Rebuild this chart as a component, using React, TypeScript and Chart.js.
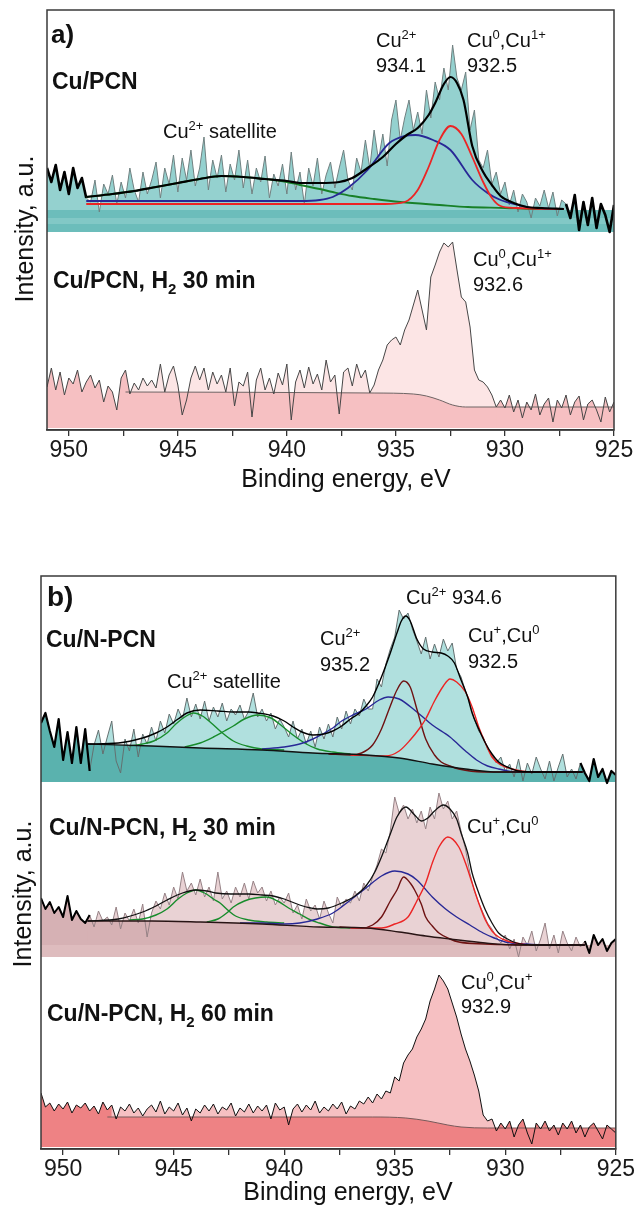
import { useEffect, useRef } from "react";
import { Chart, registerables } from "chart.js";

Chart.register(...registerables);

const FONT = '"Liberation Sans", Arial, Helvetica, sans-serif';

// ---------- axis ----------
const xMin = 925;
const xMax = 951;
const xTickValues = [950, 947.5, 945, 942.5, 940, 937.5, 935, 932.5, 930, 927.5, 925];
const xTickLabels = [950, 945, 940, 935, 930, 925];

// raw spectra: energies 951.0 -> 925.0 eV, step 0.2 eV (intensity, a.u.)
const energyStart = 951;
const energyStep = 0.2;

// (a) Cu/PCN
const cuPCN = [
  262, 248, 265, 240, 258, 236, 262, 242, 252, 232,
  228, 250, 218, 246, 236, 255, 226, 248, 232, 262,
  240, 228, 258, 236, 250, 268, 232, 262, 246, 275,
  238, 272, 250, 280, 244, 262, 293, 240, 270, 252,
  275, 238, 266, 250, 280, 242, 270, 236, 262, 248,
  274, 232, 256, 244, 266, 236, 278, 240, 258, 226,
  262, 244, 272, 236, 255, 268, 242, 262, 280, 250,
  240, 272, 258, 290, 262, 300, 270, 296, 264, 310,
  330, 290, 312, 330, 300, 318, 296, 340, 312, 348,
  330, 362, 340, 385, 352, 340, 358, 300, 320, 270,
  262, 280, 246, 258, 236, 248, 225, 240, 218, 236,
  228, 212, 232, 224, 240, 222, 238, 214, 230, 226,
  212, 235, 200, 228, 205, 232, 202, 226, 215, 198,
  225,
];
// (a) Cu/PCN, H2 30 min
const cuPCN_H2_30 = [
  43, 62, 40, 58, 35, 52, 46, 60, 38, 48,
  55, 42, 50, 28, 44, 38, 20, 52, 60, 36,
  47, 40, 52, 44, 50, 42, 66, 38, 55, 64,
  45, 15, 30, 52, 64, 50, 62, 40, 58, 46,
  55, 38, 62, 24, 48, 44, 58, 13, 50, 62,
  40, 52, 36, 57, 45, 66, 10, 48, 60, 42,
  63, 46, 56, 40, 70, 48, 55, 16, 58, 62,
  44, 66, 52, 60, 37, 45, 60, 70, 85, 90,
  93, 85, 100, 110, 125, 140, 120, 100, 153, 165,
  178, 187, 183, 188, 160, 133, 128, 103, 60, 50,
  48, 43, 35, 23, 30, 22, 35, 18, 30, 12,
  28, 20, 36, 15, 26, 32, 8, 30, 22, 35,
  15, 28, 34, 10, 26, 30, 20, 8, 33, 18,
  28,
];
// (b) Cu/N-PCN
const cuNPCN = [
  426, 436, 418, 402, 430, 389, 417, 386, 422, 386,
  420, 378, 404, 419, 395, 412, 428, 388, 376, 410,
  398, 420, 392, 415, 405, 422, 408, 428, 416, 435,
  425, 440, 430, 451, 432, 445, 430, 448, 428, 442,
  432, 446, 428, 440, 434, 444, 430, 438, 456, 432,
  440, 428, 436, 420, 430, 422, 412, 428, 410, 420,
  405, 418, 402, 422, 410, 425, 412, 432, 420, 438,
  425, 440, 433, 450, 440, 440, 470, 462, 485, 500,
  512, 539, 530, 536, 520, 508, 495, 512, 490, 505,
  492, 510, 498, 506, 480, 472, 458, 445, 430, 418,
  412, 400, 394, 386, 392, 378, 385, 372, 390, 368,
  386, 375, 392, 380, 370, 388, 368, 382, 395, 372,
  380, 370, 386, 376, 368, 390, 372, 380, 366, 378,
  374,
];
// (b) Cu/N-PCN, H2 30 min
const cuNPCN_H2_30 = [
  251, 240, 247, 236, 242, 232, 253, 229, 238, 230,
  226, 234, 222, 238, 228, 232, 224, 242, 220, 236,
  228, 240, 226, 245, 212, 236, 248, 240, 256, 244,
  262, 250, 277, 258, 266, 254, 270, 252, 262, 248,
  277, 250, 258, 246, 262, 252, 266, 250, 268, 256,
  262, 248, 258, 244, 252, 246, 256, 236, 244, 230,
  250, 238, 244, 230, 248, 236, 226, 252, 242, 250,
  246, 258, 248, 266, 258, 272, 284, 300, 296, 318,
  352, 336, 344, 330, 340, 326, 338, 320, 342, 330,
  356, 340, 348, 330, 338, 318, 300, 276, 258, 246,
  236, 226, 220, 212, 206, 214, 200, 210, 192, 212,
  204, 218, 198, 210, 226, 200, 214, 196, 218, 206,
  198, 212, 202, 208, 196, 214, 204, 210, 198, 206,
  210,
];
// (b) Cu/N-PCN, H2 60 min
const cuNPCN_H2_60 = [
  56, 42, 46, 38, 45, 40, 47, 36, 44, 41,
  46, 38, 43, 35, 47, 39, 44, 30, 42, 38,
  45, 36, 41, 33, 40, 44, 37, 48, 35, 42,
  38, 46, 34, 41, 28, 40, 36, 44, 38, 45,
  35, 42, 39, 46, 33, 41, 37, 45, 36, 43,
  38, 44, 30, 46, 39, 42, 24, 40, 45, 37,
  44, 39, 48, 36, 42, 38, 45, 40, 47, 35,
  43, 40, 48, 45, 52, 46, 55, 50, 58, 56,
  72, 68, 86, 94, 100, 112, 120, 130, 148, 160,
  174, 168, 160, 146, 132, 115, 100, 88, 74, 58,
  34, 28, 30, 18, 26, 20, 28, 12, 24, 30,
  16, 5, 26, 20, 28, 18, 24, 14, 26, 20,
  28, 16, 24, 12, 22, 26, 18, 10, 24, 20,
  16,
];

// ---------- fitted curves [eV, intensity] ----------
// (a) Cu/PCN
const fitA_envelope = [
  [949.2, 233], [948, 236], [947, 239], [946, 243], [945, 247], [944, 251], [943, 254], [942, 253],
  [941, 251], [940, 249], [939.4, 247], [938.5, 247], [937.6, 248], [937, 252], [936.3, 262],
  [935.6, 273], [935, 286], [934.5, 295], [934, 302], [933.5, 315], [933.2, 327], [932.8, 346],
  [932.5, 353], [932.2, 347], [931.9, 330], [931.5, 284], [931, 258], [930.6, 245], [930.2, 234],
  [929.6, 227], [929, 223], [928.3, 222], [927.3, 221],
];
const fitA_satellite = [
  [949.2, 233], [948, 236], [947, 239], [946, 243], [945, 247], [944, 251], [943, 254], [942, 253],
  [941, 251], [940, 248], [939.4, 245], [938.5, 241], [937.9, 238], [937, 234], [936, 231],
  [934.8, 228], [933, 225], [931.7, 223], [930, 222], [928.7, 221], [927.3, 221],
];
const fitA_cu2 = [
  [949.2, 229], [945, 229], [941, 229], [939.4, 229], [938.5, 230], [937.9, 233], [937.2, 242],
  [936.3, 260], [935.3, 287], [934.6, 294], [934.1, 295], [933.3, 290], [932.5, 280], [931.5, 250],
  [930.8, 237], [930.2, 230], [929.4, 225], [928.7, 222], [927.3, 221],
];
const fitA_cu0 = [
  [949.2, 226], [940, 226], [935.5, 226], [934.6, 228], [934, 240], [933.5, 263], [933, 290],
  [932.5, 304], [932, 296], [931.5, 273], [931, 248], [930.6, 232], [930.2, 224], [929.5, 222],
  [927.3, 221],
];
// (a) Cu/PCN, H2 30 min background
const bgA_H2 = [
  [947.4, 38], [936, 37], [934.2, 36], [933.6, 34], [933, 30], [932.4, 25], [931.8, 23], [925, 23],
];

// (b) Cu/N-PCN
const fitB1_background = [
  [948.9, 405], [946, 403], [943.8, 401], [941, 399], [938.7, 396], [936.3, 394], [934.8, 391],
  [933.3, 385], [931.8, 380], [930.3, 377], [929, 377], [926.5, 377],
];
const fitB1_envelope = [
  [948.9, 405], [947.5, 406], [946.4, 411], [945.8, 416], [945.3, 422], [944.8, 430], [944.4, 436],
  [943.8, 439], [943, 438], [942.3, 437], [941.6, 437], [941.2, 436], [940.5, 433], [940, 428],
  [939.6, 422], [939.2, 417], [938.7, 414], [938.2, 415], [937.8, 418], [937.4, 423], [937, 430],
  [936.6, 436], [936.3, 443], [936, 452], [935.6, 472], [935.2, 496], [934.9, 516], [934.7, 528],
  [934.5, 533], [934.3, 528], [934, 510], [933.7, 500], [933.3, 497], [932.9, 496], [932.6, 493],
  [932.3, 486], [932, 469], [931.7, 452], [931.5, 436], [931.2, 420], [930.9, 406], [930.6, 395],
  [930.3, 387], [929.9, 382], [929.4, 378], [928.5, 377], [926.5, 377],
];
const fitB1_sat1 = [
  [947, 403], [946.4, 405], [945.9, 408], [945.3, 416], [944.9, 425], [944.5, 432], [944.1, 436],
  [943.7, 433], [943.3, 426], [942.9, 418], [942.3, 408], [941.7, 403], [941, 400], [940, 399],
];
const fitB1_sat2 = [
  [944.5, 402], [943.8, 406], [943.2, 412], [942.7, 418], [942.3, 423], [941.8, 430], [941.2, 434],
  [940.6, 431], [940.1, 423], [939.6, 414], [939, 405], [938.5, 400], [937.8, 397], [937, 395],
];
const fitB1_cu2a = [
  [941, 400], [940, 402], [939.3, 405], [938.7, 410], [937.8, 421], [937.4, 428], [936.8, 435],
  [936.3, 440], [935.7, 449], [935.3, 452], [934.8, 450], [934, 437], [933.3, 424], [932.5, 412],
  [931.8, 398], [931.3, 389], [930.8, 383], [930.3, 380], [929.5, 377], [928, 377], [926.5, 377],
];
const fitB1_cu2b = [
  [938, 395], [937, 394], [936.5, 396], [936, 404], [935.6, 420], [935.2, 443], [934.9, 459],
  [934.6, 468], [934.3, 462], [934, 440], [933.6, 410], [933.2, 394], [932.9, 387], [932.5, 383],
  [932.1, 380], [931, 377], [929, 377],
];
const fitB1_cu1 = [
  [937, 394], [935.4, 393], [934.8, 398], [934.3, 409], [933.9, 420], [933.6, 430], [933.2, 448],
  [932.8, 463], [932.5, 470], [932.2, 467], [931.8, 457], [931.5, 442], [931.2, 422], [930.9, 406],
  [930.6, 392], [930.2, 384], [929.7, 380], [928.8, 377], [926.5, 377],
];

// (b) Cu/N-PCN, H2 30 min
const fitB2_background = [
  [948.9, 228], [946, 228], [943.8, 227], [941, 225], [938.4, 222], [936.3, 221], [934.8, 217],
  [933.6, 213], [932.5, 210], [930.9, 206], [929.5, 204], [926.4, 204],
];
const fitB2_envelope = [
  [948.9, 228], [947.5, 230], [946.4, 237], [945.8, 243], [945.3, 249], [944.6, 256], [944, 259],
  [943.5, 258], [943.1, 256], [942.4, 255], [941.6, 255], [941, 254], [940.5, 253], [940, 250],
  [939.3, 244], [938.8, 241], [938.5, 240], [938, 241], [937.4, 246], [936.8, 253], [936.3, 263],
  [935.9, 277], [935.6, 292], [935.2, 315], [934.9, 332], [934.5, 342], [934.1, 334], [933.8, 328],
  [933.5, 331], [933.2, 338], [932.8, 344], [932.5, 340], [932.2, 330], [932, 316], [931.7, 296],
  [931.5, 276], [931.2, 256], [930.9, 239], [930.6, 226], [930.3, 216], [929.9, 210], [929.5, 206],
  [928.8, 204], [926.4, 204],
];
const fitB2_sat1 = [
  [947, 229], [946.4, 230], [945.8, 234], [945.3, 240], [944.8, 250], [944.4, 256], [944, 259],
  [943.6, 256], [943.2, 250], [942.9, 246], [942.5, 238], [942.2, 233], [941.6, 229], [940.8, 227],
  [940, 226],
];
const fitB2_sat2 = [
  [943.5, 227], [943, 230], [942.6, 236], [942.3, 242], [941.8, 248], [941.3, 251], [940.8, 252],
  [940.3, 248], [939.8, 241], [939.3, 235], [938.8, 229], [938.4, 226], [937.8, 222], [937, 221],
];
const fitB2_cu2a = [
  [942, 226], [941, 226], [940, 225], [939.3, 226], [938.5, 230], [937.8, 236], [937, 249],
  [936.3, 261], [935.6, 273], [935, 278], [934.4, 275], [934, 269], [933.3, 252], [932.7, 240],
  [932.2, 232], [931.6, 224], [931, 216], [930.5, 211], [930, 207], [929.1, 205], [928, 204],
  [926.4, 204],
];
const fitB2_cu2b = [
  [937.5, 222], [936.5, 221], [936, 224], [935.6, 232], [935.2, 248], [934.9, 259], [934.6, 272],
  [934.3, 266], [934.1, 259], [933.8, 245], [933.6, 232], [933.3, 223], [933, 216], [932.5, 210],
  [932.1, 207], [930.9, 205], [929, 204],
];
const fitB2_cu1 = [
  [937, 221], [935.6, 221], [935, 225], [934.4, 232], [934, 248], [933.6, 266], [933.3, 286],
  [933, 302], [932.6, 312], [932.1, 302], [931.8, 286], [931.5, 266], [931.2, 246], [930.9, 229],
  [930.6, 218], [930.3, 212], [929.9, 208], [929.5, 206], [928.8, 204], [926.4, 204],
];

// (b) Cu/N-PCN, H2 60 min background
const bgB3 = [
  [948, 32], [936, 32], [934.5, 31], [933.5, 28], [932.6, 24], [932, 22], [930.8, 21], [925, 21],
];

// fill base levels (a.u.)
const baseA1 = 198, bandA1Top = 220, stripeA1Top = 212, stripeA1Bottom = 206;
const baseA2 = 2;
const baseB1 = 367;
const baseB2 = 192, stripeB2Top = 204;
const baseB3 = 2;

// ---------- texts ----------
type Part = [string, string?];
type Label = { x: number; y: number; size: number; bold?: boolean; parts: Part[] };

const labelsA: Label[] = [
  { x: 51, y: 43, size: 26, bold: true, parts: [["a)"]] },
  { x: 52, y: 89, size: 23, bold: true, parts: [["Cu/PCN"]] },
  { x: 163, y: 138, size: 20, parts: [["Cu"], ["2+", "sup"], [" satellite"]] },
  { x: 376, y: 47, size: 20, parts: [["Cu"], ["2+", "sup"]] },
  { x: 376, y: 72, size: 20, parts: [["934.1"]] },
  { x: 467, y: 47, size: 20, parts: [["Cu"], ["0", "sup"], [",Cu"], ["1+", "sup"]] },
  { x: 467, y: 72, size: 20, parts: [["932.5"]] },
  { x: 53, y: 288, size: 23, bold: true, parts: [["Cu/PCN, H"], ["2", "sub"], [" 30 min"]] },
  { x: 473, y: 266, size: 20, parts: [["Cu"], ["0", "sup"], [",Cu"], ["1+", "sup"]] },
  { x: 473, y: 291, size: 20, parts: [["932.6"]] },
];
const labelsB: Label[] = [
  { x: 47, y: 606, size: 28, bold: true, parts: [["b)"]] },
  { x: 46, y: 647, size: 23, bold: true, parts: [["Cu/N-PCN"]] },
  { x: 167, y: 688, size: 20, parts: [["Cu"], ["2+", "sup"], [" satellite"]] },
  { x: 406, y: 604, size: 20, parts: [["Cu"], ["2+", "sup"], [" 934.6"]] },
  { x: 320, y: 645, size: 20, parts: [["Cu"], ["2+", "sup"]] },
  { x: 320, y: 671, size: 20, parts: [["935.2"]] },
  { x: 468, y: 642, size: 20, parts: [["Cu"], ["+", "sup"], [",Cu"], ["0", "sup"]] },
  { x: 468, y: 668, size: 20, parts: [["932.5"]] },
  { x: 49, y: 835, size: 23, bold: true, parts: [["Cu/N-PCN, H"], ["2", "sub"], [" 30 min"]] },
  { x: 467, y: 833, size: 20, parts: [["Cu"], ["+", "sup"], [",Cu"], ["0", "sup"]] },
  { x: 47, y: 1021, size: 23, bold: true, parts: [["Cu/N-PCN, H"], ["2", "sub"], [" 60 min"]] },
  { x: 461, y: 989, size: 20, parts: [["Cu"], ["0", "sup"], [",Cu"], ["+", "sup"]] },
  { x: 461, y: 1013, size: 20, parts: [["932.9"]] },
];
const xTitle = "Binding energy, eV";
const yTitle = "Intensity, a.u.";

// ---------- helpers ----------
type P = { x: number; y: number };
const toPts = (ys: number[]): P[] =>
  ys.map((y, i) => ({ x: Math.round((energyStart - i * energyStep) * 10) / 10, y }));
const fromPairs = (arr: number[][]): P[] => arr.map(([x, y]) => ({ x, y }));
const range = (pts: P[], hi: number, lo: number) =>
  pts.filter((p) => p.x <= hi + 1e-6 && p.x >= lo - 1e-6);
const flat = (y: number): P[] => [{ x: xMax, y }, { x: xMin, y }];

const lineDs = (data: P[], color: string, width: number, smooth = false) => ({
  data,
  borderColor: color,
  borderWidth: width,
  pointRadius: 0,
  fill: false,
  tension: 0,
  cubicInterpolationMode: smooth ? "monotone" : "default",
  borderJoinStyle: "round",
});
const fillDs = (data: P[], color: string, base: number, smooth = false) => ({
  data,
  borderColor: "rgba(0,0,0,0)",
  borderWidth: 0,
  pointRadius: 0,
  backgroundColor: color,
  fill: { value: base },
  tension: 0,
  cubicInterpolationMode: smooth ? "monotone" : "default",
});
const withOrder = (ds: any[]) => ds.map((d, i) => ({ ...d, order: ds.length - i }));

function drawRich(ctx: CanvasRenderingContext2D, l: Label, dy: number) {
  let cx = l.x;
  for (const [t, k] of l.parts) {
    const small = k === "sup" || k === "sub";
    const s = small ? Math.round(l.size * 0.65) : l.size;
    ctx.font = `${l.bold ? "bold " : ""}${s}px ${FONT}`;
    const oy = k === "sup" ? -l.size * 0.42 : k === "sub" ? l.size * 0.24 : 0;
    ctx.fillText(t, cx, l.y - dy + oy);
    cx += ctx.measureText(t).width;
  }
}

const framePlugin = {
  id: "frame",
  afterDatasetsDraw(chart: any) {
    const { ctx, chartArea: a } = chart;
    ctx.save();
    ctx.strokeStyle = "#3a3a3a";
    ctx.lineWidth = 1.5;
    ctx.strokeRect(a.left, a.top, a.right - a.left, a.bottom - a.top);
    ctx.restore();
  },
};

const textPlugin = (labels: Label[], dy: number, xt: [number, number], yt: [number, number]) => ({
  id: "texts",
  afterDraw(chart: any) {
    const ctx: CanvasRenderingContext2D = chart.ctx;
    ctx.save();
    ctx.fillStyle = "#111";
    ctx.textBaseline = "alphabetic";
    ctx.textAlign = "left";
    labels.forEach((l) => drawRich(ctx, l, dy));
    ctx.font = `25px ${FONT}`;
    ctx.textAlign = "center";
    ctx.fillText(xTitle, xt[0], xt[1] - dy);
    ctx.translate(yt[0], yt[1] - dy);
    ctx.rotate(-Math.PI / 2);
    ctx.fillText(yTitle, 0, 0);
    ctx.restore();
  },
});

const xScale = () => ({
  type: "linear",
  min: xMin,
  max: xMax,
  reverse: true,
  afterBuildTicks: (s: any) => {
    s.ticks = xTickValues.map((v) => ({ value: v }));
  },
  afterFit: (s: any) => {
    s.height = 35;
  },
  ticks: {
    autoSkip: false,
    maxRotation: 0,
    minRotation: 0,
    padding: 3,
    color: "#1a1a1a",
    font: { family: FONT, size: 23, lineHeight: 1 },
    callback: (v: number) => (xTickLabels.includes(v) ? String(v) : ""),
  },
  grid: { drawOnChartArea: false, drawTicks: true, tickLength: 6, color: "#333", lineWidth: 1.3 },
  border: { display: true, color: "#333", width: 1.5 },
});

const baseOptions = (yMax: number, padding: any) => ({
  responsive: false,
  animation: false,
  devicePixelRatio: 1,
  events: [],
  layout: { padding },
  plugins: { legend: { display: false }, tooltip: { enabled: false } },
  scales: {
    x: xScale(),
    y: { type: "linear", display: false, min: 0, max: yMax },
  },
});

function configA(): any {
  const r1 = toPts(cuPCN);
  const r2 = toPts(cuPCN_H2_30);
  const tealLight = "rgb(148,209,207)";
  const tealBand = "rgb(108,189,187)";
  const tealStripe = "rgb(130,200,198)";
  const pinkLight = "rgb(252,229,229)";
  const pinkDeep = "rgb(246,192,194)";
  const datasets = withOrder([
    // Cu/PCN
    fillDs(r1, tealLight, baseA1),
    fillDs(flat(bandA1Top), tealBand, baseA1),
    fillDs(flat(stripeA1Top), tealStripe, stripeA1Bottom),
    lineDs(r1, "rgb(112,128,128)", 1),
    lineDs(range(r1, 951, 949.2), "#000", 2.6),
    lineDs(range(r1, 927.2, 925), "#000", 2.6),
    lineDs(fromPairs(fitA_satellite), "rgb(24,128,40)", 1.8, true),
    lineDs(fromPairs(fitA_cu2), "rgb(40,40,150)", 1.8, true),
    lineDs(fromPairs(fitA_cu0), "rgb(236,36,36)", 1.8, true),
    lineDs(fromPairs(fitA_envelope), "#000", 2.2, true),
    // Cu/PCN, H2 30 min
    fillDs(r2, pinkLight, baseA2),
    fillDs(range(r2, 951, 947.2), pinkDeep, baseA2),
    fillDs(fromPairs(bgA_H2), pinkDeep, baseA2, true),
    fillDs(range(r2, 930.4, 925), pinkDeep, baseA2),
    lineDs(fromPairs(bgA_H2), "rgb(110,100,100)", 1, true),
    lineDs(r2, "rgb(70,70,70)", 1),
  ]);
  return {
    type: "line",
    data: { datasets },
    options: baseOptions(420, { left: 47, right: 24, top: 10, bottom: 35 }),
    plugins: [framePlugin, textPlugin(labelsA, 0, [346, 487], [33, 229])],
  };
}

function configB(): any {
  const r1 = toPts(cuNPCN);
  const r2 = toPts(cuNPCN_H2_30);
  const r3 = toPts(cuNPCN_H2_60);
  const tealLight = "rgb(176,224,222)";
  const tealDark = "rgb(90,178,174)";
  const mauveLight = "rgb(233,210,212)";
  const mauveDark = "rgb(214,177,180)";
  const mauveStripe = "rgb(222,188,190)";
  const pinkLight = "rgb(246,192,194)";
  const pinkDeep = "rgb(238,130,132)";
  const green = "rgb(24,140,44)";
  const blue = "rgb(40,40,150)";
  const dark = "rgb(110,18,18)";
  const red = "rgb(236,36,36)";
  const datasets = withOrder([
    // Cu/N-PCN
    fillDs(r1, tealLight, baseB1),
    fillDs(range(r1, 951, 948.6), tealDark, baseB1),
    fillDs(fromPairs(fitB1_background), tealDark, baseB1, true),
    fillDs(range(r1, 926.8, 925), tealDark, baseB1),
    lineDs(r1, "rgb(100,112,112)", 1),
    lineDs(range(r1, 951, 948.8), "#000", 2.2),
    lineDs(range(r1, 926.6, 925), "#000", 2.2),
    lineDs(fromPairs(fitB1_sat1), green, 1.4, true),
    lineDs(fromPairs(fitB1_sat2), green, 1.4, true),
    lineDs(fromPairs(fitB1_cu2a), blue, 1.4, true),
    lineDs(fromPairs(fitB1_cu2b), dark, 1.4, true),
    lineDs(fromPairs(fitB1_cu1), red, 1.4, true),
    lineDs(fromPairs(fitB1_background), "#111", 1.4, true),
    lineDs(fromPairs(fitB1_envelope), "#000", 1.4, true),
    // Cu/N-PCN, H2 30 min
    fillDs(r2, mauveLight, baseB2),
    fillDs(range(r2, 951, 948.6), mauveDark, baseB2),
    fillDs(fromPairs(fitB2_background), mauveDark, baseB2, true),
    fillDs(range(r2, 926.6, 925), mauveDark, baseB2),
    fillDs(flat(stripeB2Top), mauveStripe, baseB2),
    lineDs(r2, "rgb(150,130,134)", 1),
    lineDs(range(r2, 951, 948.8), "#000", 2),
    lineDs(range(r2, 926.4, 925), "#000", 2),
    lineDs(fromPairs(fitB2_sat1), green, 1.4, true),
    lineDs(fromPairs(fitB2_sat2), green, 1.4, true),
    lineDs(fromPairs(fitB2_cu2a), blue, 1.4, true),
    lineDs(fromPairs(fitB2_cu2b), dark, 1.4, true),
    lineDs(fromPairs(fitB2_cu1), red, 1.4, true),
    lineDs(fromPairs(fitB2_background), "rgb(40,20,20)", 1.4, true),
    lineDs(fromPairs(fitB2_envelope), "#111", 1.3, true),
    // Cu/N-PCN, H2 60 min
    fillDs(r3, pinkLight, baseB3),
    fillDs(range(r3, 951, 947.8), pinkDeep, baseB3),
    fillDs(fromPairs(bgB3), pinkDeep, baseB3, true),
    fillDs(range(r3, 930.4, 925), pinkDeep, baseB3),
    lineDs(fromPairs(bgB3), "rgb(120,90,90)", 1, true),
    lineDs(r3, "#111", 1),
  ]);
  return {
    type: "line",
    data: { datasets },
    options: baseOptions(573, { left: 41, right: 21, top: 16, bottom: 23 }),
    plugins: [framePlugin, textPlugin(labelsB, 560, [348, 1200], [31, 894])],
  };
}

export default function App() {
  const refA = useRef<HTMLCanvasElement>(null);
  const refB = useRef<HTMLCanvasElement>(null);
  useEffect(() => {
    const a = new Chart(refA.current as HTMLCanvasElement, configA());
    const b = new Chart(refB.current as HTMLCanvasElement, configB());
    return () => {
      a.destroy();
      b.destroy();
    };
  }, []);
  return (
    <div
      style={{ position: "absolute", left: 0, top: 0, width: 638, height: 1207, background: "#fff" }}
    >
      <canvas
        ref={refA}
        width={638}
        height={500}
        style={{ position: "absolute", left: 0, top: 0, width: 638, height: 500 }}
      />
      <canvas
        ref={refB}
        width={638}
        height={647}
        style={{ position: "absolute", left: 0, top: 560, width: 638, height: 647 }}
      />
    </div>
  );
}
